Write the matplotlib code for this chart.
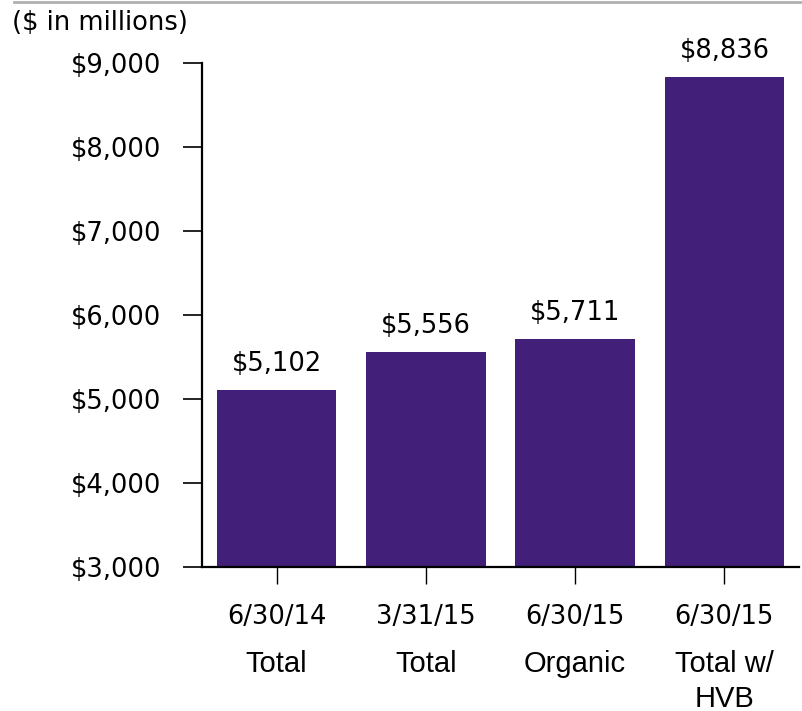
import matplotlib
matplotlib.use("Agg")
import matplotlib.pyplot as plt
from matplotlib.lines import Line2D

# Data
dates = ["6/30/14", "3/31/15", "6/30/15", "6/30/15"]
kinds = ["Total", "Total", "Organic", "Total w/\nHVB"]
values = [5102, 5556, 5711, 8836]
yticks = [3000, 4000, 5000, 6000, 7000, 8000, 9000]

W, H = 802, 711
fig = plt.figure(figsize=(W / 100, H / 100), dpi=100)
ax = fig.add_axes([202 / W, 1 - 567 / H, (799 - 202) / W, (567 - 63) / H])

bar_color = "#42207A"
x = list(range(len(values)))
ax.bar(x, [v - 3000 for v in values], bottom=3000, width=0.8, color=bar_color, zorder=2)

ax.set_xlim(-0.5, 3.5)
ax.set_ylim(3000, 9000)
ax.set_yticks(yticks)
ax.set_yticklabels([f"${v:,}" for v in yticks])
ax.set_xticks(x)
ax.set_xticklabels(dates)

for s in ("top", "right"):
    ax.spines[s].set_visible(False)
for s in ("left", "bottom"):
    ax.spines[s].set_linewidth(1.6)
    ax.spines[s].set_color("black")

ax.tick_params(axis="y", direction="out", length=14, width=1.2, pad=15.5,
               labelsize=18.5, colors="black")
ax.tick_params(axis="x", direction="out", length=12, width=1.0, pad=15,
               labelsize=18.5, colors="black")
for t in ax.get_xticklines():
    t.set_color("#555555")
for lbl in ax.get_xticklabels() + ax.get_yticklabels():
    lbl.set_fontfamily("DejaVu Sans")

# Second line of category labels
for xi, k in zip(x, kinds):
    ax.annotate(k, xy=(xi, 0), xycoords=("data", "axes fraction"),
                xytext=(0, -83), textcoords="offset pixels",
                ha="center", va="top", fontsize=21,
                family="Liberation Sans", linespacing=1.3)

# Value labels above bars
for xi, v in zip(x, values):
    ax.annotate(f"${v:,}", xy=(xi, v), xytext=(0, 13), textcoords="offset pixels",
                ha="center", va="bottom", fontsize=18.5, family="DejaVu Sans")

fig.text(12 / W, 1 - 23 / H, "($ in millions)", ha="left", va="center",
         fontsize=18.5, family="DejaVu Sans")
fig.add_artist(Line2D([14 / W, 1], [1 - 1.5 / H, 1 - 1.5 / H],
                      transform=fig.transFigure, color="#b0b0b0", linewidth=2))

fig.savefig("out.png", dpi=100)
